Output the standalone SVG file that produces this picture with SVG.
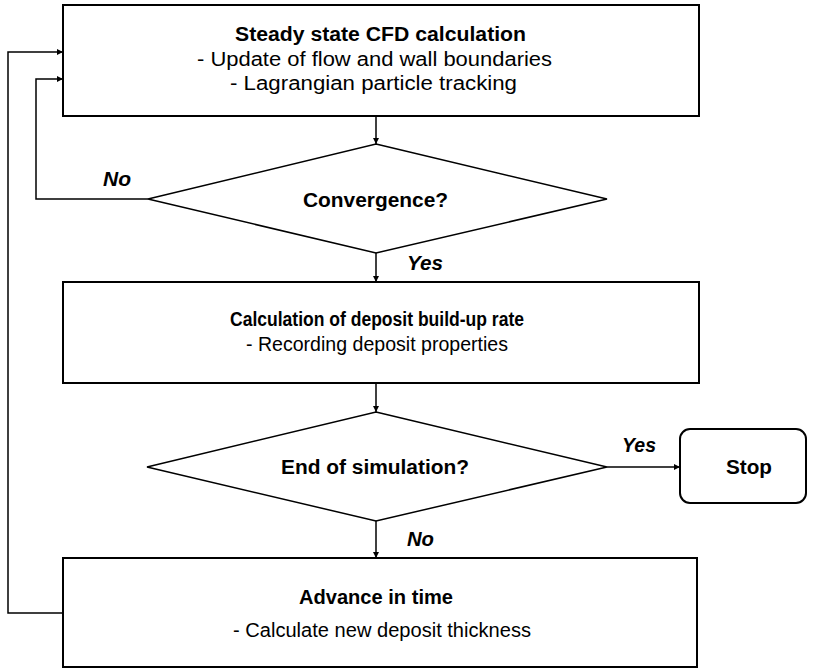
<svg xmlns="http://www.w3.org/2000/svg" width="813" height="669" viewBox="0 0 813 669">
<style>
.box{fill:#fff;stroke:#000;stroke-width:2}
.dia{fill:#fff;stroke:#000;stroke-width:1.5}
.ln{fill:none;stroke:#000;stroke-width:1.5}
text{font-family:"Liberation Sans",Arial,sans-serif;font-size:20px;fill:#000}
.b{font-weight:bold}
.bi{font-weight:bold;font-style:italic}
</style>
<defs>
<marker id="ah" viewBox="0 0 10 10" refX="10" refY="5" markerWidth="6" markerHeight="6" markerUnits="userSpaceOnUse" orient="auto">
<path d="M0,0 L10,5 L0,10 z" fill="#000"/>
</marker>
</defs>
<rect width="813" height="669" fill="#fff"/>
<g id="connectors">
<line class="ln" x1="376" y1="116" x2="376" y2="144" marker-end="url(#ah)"/>
<line class="ln" x1="376" y1="253" x2="376" y2="282" marker-end="url(#ah)"/>
<line class="ln" x1="376" y1="383" x2="376" y2="412" marker-end="url(#ah)"/>
<line class="ln" x1="376" y1="521" x2="376" y2="558" marker-end="url(#ah)"/>
<line class="ln" x1="607" y1="467" x2="680" y2="467" marker-end="url(#ah)"/>
<polyline class="ln" points="148,199 36,199 36,79 63,79" marker-end="url(#ah)"/>
<polyline class="ln" points="63,613 8,613 8,52 63,52" marker-end="url(#ah)"/>
<text class="bi" x="103" y="186" textLength="28" lengthAdjust="spacingAndGlyphs">No</text>
<text class="bi" x="407" y="270" textLength="36" lengthAdjust="spacingAndGlyphs">Yes</text>
<text class="bi" x="622" y="452" textLength="34" lengthAdjust="spacingAndGlyphs">Yes</text>
<text class="bi" x="407" y="546" textLength="27" lengthAdjust="spacingAndGlyphs">No</text>
</g>
<g id="cfd">
<rect class="box" x="63" y="5" width="636" height="111"/>
<text class="b" x="235" y="41" textLength="291" lengthAdjust="spacingAndGlyphs">Steady state CFD calculation</text>
<text x="197" y="66" textLength="355" lengthAdjust="spacingAndGlyphs">- Update of flow and wall boundaries</text>
<text x="230" y="90" textLength="287" lengthAdjust="spacingAndGlyphs">- Lagrangian particle tracking</text>
</g>
<g id="convergence">
<polygon class="dia" points="376,144 607,199 376,253 148,199"/>
<text class="b" x="303" y="207" textLength="145" lengthAdjust="spacingAndGlyphs">Convergence?</text>
</g>
<g id="deposit">
<rect class="box" x="63" y="282" width="636" height="101"/>
<text class="b" x="230" y="326" textLength="294" lengthAdjust="spacingAndGlyphs">Calculation of deposit build-up rate</text>
<text x="246" y="351" textLength="262" lengthAdjust="spacingAndGlyphs">- Recording deposit properties</text>
</g>
<g id="endsim">
<polygon class="dia" points="376,412 607,467 376,521 147,467"/>
<text class="b" x="281" y="474" textLength="188" lengthAdjust="spacingAndGlyphs">End of simulation?</text>
</g>
<g id="stop">
<rect class="box" x="680" y="429" width="126" height="74" rx="10"/>
<text class="b" x="726" y="474" textLength="46" lengthAdjust="spacingAndGlyphs">Stop</text>
</g>
<g id="advance">
<rect class="box" x="63" y="558" width="634" height="109"/>
<text class="b" x="299" y="604" textLength="154" lengthAdjust="spacingAndGlyphs">Advance in time</text>
<text x="233" y="637" textLength="298" lengthAdjust="spacingAndGlyphs">- Calculate new deposit thickness</text>
</g>
</svg>
